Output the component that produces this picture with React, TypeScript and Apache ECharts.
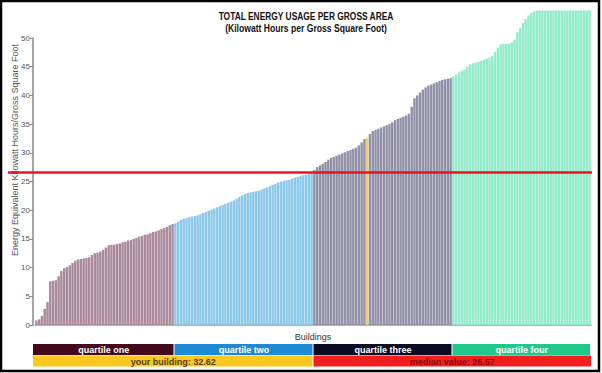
import React, { useEffect, useRef } from "react";
import * as echarts from "echarts";

const q1Values = [0.8, 1.0, 1.6, 2.8, 4.0, 7.6, 7.7, 7.8, 8.5, 9.4, 9.9, 10.1, 10.4, 10.8, 11.2, 11.4, 11.5, 11.6, 11.7, 11.8, 12.2, 12.5, 12.6, 12.8, 13.1, 13.5, 13.9, 14.0, 14.0, 14.1, 14.2, 14.4, 14.5, 14.7, 14.8, 15.0, 15.2, 15.4, 15.5, 15.7, 15.8, 16.0, 16.2, 16.3, 16.5, 16.7, 16.9, 17.1, 17.4, 17.6];
const q2Values = [17.7, 18.0, 18.3, 18.5, 18.6, 18.8, 18.9, 19.0, 19.1, 19.3, 19.5, 19.7, 19.9, 20.1, 20.3, 20.5, 20.7, 20.9, 21.1, 21.3, 21.5, 21.7, 22.0, 22.3, 22.6, 22.8, 23.0, 23.1, 23.2, 23.3, 23.4, 23.6, 23.8, 24.0, 24.2, 24.4, 24.6, 24.8, 25.0, 25.1, 25.2, 25.3, 25.5, 25.7, 25.8, 26.0, 26.1, 26.2, 26.3, 26.5];
const q3Values = [27.0, 27.5, 27.8, 28.1, 28.4, 28.8, 29.1, 29.3, 29.5, 29.7, 29.9, 30.1, 30.3, 30.5, 30.7, 30.9, 31.3, 31.8, 32.4, 32.62, 33.3, 33.8, 34.0, 34.2, 34.4, 34.6, 34.8, 35.0, 35.3, 35.7, 35.9, 36.1, 36.3, 36.5, 36.8, 38.0, 39.5, 40.0, 40.5, 41.0, 41.4, 41.7, 41.9, 42.1, 42.3, 42.5, 42.7, 42.8, 42.9, 43.0];
const q4Values = [43.3, 43.6, 44.0, 44.3, 44.5, 45.0, 45.4, 45.6, 45.7, 45.8, 46.0, 46.2, 46.4, 46.6, 46.9, 47.6, 48.3, 48.9, 49.0, 49.0, 49.0, 49.2, 49.7, 51.0, 51.7, 52.6, 53.3, 53.9, 54.3, 54.6, 54.8, 54.8, 54.8, 54.8, 54.8, 54.8, 54.8, 54.8, 54.8, 54.8, 54.8, 54.8, 54.8, 54.8, 54.8, 54.8, 54.8, 54.8, 54.8, 54.8];

const quartileLabels = ["quartile one", "quartile two", "quartile three", "quartile four"];
const yourBuildingValue = 32.62;
const medianValue = 26.57;
const yTickValues = [0, 5, 10, 15, 20, 25, 30, 35, 40, 45, 50];

const barColors = ["#ab8b9b", "#8cc8ea", "#9191a7", "#92ebcb"];
const legendColors = ["#45091e", "#1e8ad3", "#0b0b24", "#1fc98c"];
const yourColor = "#f6c774";

export default function App() {
  const ref = useRef<HTMLDivElement>(null);
  useEffect(() => {
    document.body.style.margin = "0";
    const chart = echarts.init(ref.current!, null, { renderer: "svg" });
    const groups = [q1Values, q2Values, q3Values, q4Values];
    const categories: string[] = [];
    const data: any[] = [];
    groups.forEach((vals, gi) => {
      vals.forEach((v) => {
        categories.push("B" + (categories.length + 1));
        const isYou = v === yourBuildingValue;
        data.push({ value: v, itemStyle: { color: isYou ? yourColor : barColors[gi] } });
      });
    });

    const font = "'Liberation Sans', Arial, sans-serif";
    const legendTop1 = 344;
    const legendTop2 = 355.5;
    const lh = 11;
    const qx = [33, 174.5, 313.5, 452.5, 591];
    const legendEls: any[] = [];
    quartileLabels.forEach((lab, i) => {
      legendEls.push({
        type: "rect",
        shape: { x: qx[i], y: legendTop1, width: qx[i + 1] - qx[i] - 1, height: lh },
        style: { fill: legendColors[i] },
      });
      legendEls.push({
        type: "text",
        x: (qx[i] + qx[i + 1]) / 2,
        y: legendTop1 + lh / 2 + 0.5,
        style: { text: lab, fill: "#ffffff", font: "bold 9px " + font, textAlign: "center", textVerticalAlign: "middle" },
      });
    });
    legendEls.push({
      type: "rect",
      shape: { x: qx[0], y: legendTop2, width: qx[2] - qx[0] - 1, height: lh },
      style: { fill: "#fbc81f" },
    });
    legendEls.push({
      type: "text",
      x: (qx[0] + qx[2]) / 2,
      y: legendTop2 + lh / 2 + 0.5,
      style: { text: "your building: " + yourBuildingValue, fill: "#4a4020", font: "bold 9px " + font, textAlign: "center", textVerticalAlign: "middle" },
    });
    legendEls.push({
      type: "rect",
      shape: { x: qx[2], y: legendTop2, width: qx[4] - qx[2], height: lh },
      style: { fill: "#f21f1f" },
    });
    legendEls.push({
      type: "text",
      x: (qx[2] + qx[4]) / 2,
      y: legendTop2 + lh / 2 + 0.5,
      style: { text: "median value: " + medianValue, fill: "#8a0a0a", font: "bold 9px " + font, textAlign: "center", textVerticalAlign: "middle" },
    });

    const option: any = {
      animation: false,
      backgroundColor: "#ffffff",
      grid: { left: 35, right: 11, top: 38, bottom: 48, containLabel: false },
      xAxis: {
        type: "category",
        data: categories,
        axisTick: { show: false },
        axisLabel: { show: false },
        axisLine: { lineStyle: { color: "#9a9a9a", width: 1.5 } },
        name: "Buildings",
        nameLocation: "middle",
        nameGap: 7,
        nameTextStyle: { fontSize: 9, color: "#333", fontFamily: font },
      },
      yAxis: {
        type: "value",
        min: 0,
        max: 50,
        interval: 5,
        offset: 2,
        splitLine: { show: false },
        axisLine: { show: true, lineStyle: { color: "#888", width: 1.5 } },
        axisTick: { show: true, length: 3, lineStyle: { color: "#888" } },
        axisLabel: {
          fontSize: 8,
          color: "#555",
          margin: 3,
          fontFamily: font,
          formatter: (v: number) => (yTickValues.indexOf(v) >= 0 ? String(v) : ""),
        },
      },
      series: [
        {
          type: "bar",
          data,
          barCategoryGap: "12%",
          clip: false,
        },
      ],
      graphic: {
        elements: [
          {
            type: "rect",
            shape: { x: 1, y: 1, width: 598, height: 370 },
            style: { fill: "none", stroke: "#000", lineWidth: 2.5 },
            silent: true,
          },
          {
            type: "text",
            x: 306,
            y: 17,
            scaleX: 0.84,
            style: {
              text: "TOTAL ENERGY USAGE PER GROSS AREA",
              fill: "#111",
              font: "bold 10px " + font,
              textAlign: "center",
              textVerticalAlign: "middle",
            },
          },
          {
            type: "text",
            x: 306,
            y: 29,
            scaleX: 0.86,
            style: {
              text: "(Kilowatt Hours per Gross Square Foot)",
              fill: "#111",
              font: "bold 10px " + font,
              textAlign: "center",
              textVerticalAlign: "middle",
            },
          },
          {
            type: "text",
            x: 15,
            y: 150,
            rotation: Math.PI / 2,
            style: {
              text: "Energy Equivalent Kilowatt Hours/Gross Square Foot",
              fill: "#555",
              font: "9px " + font,
              textAlign: "center",
              textVerticalAlign: "middle",
            },
          },
          ...legendEls,
          {
            id: "median",
            type: "line",
            z: 100,
            shape: { x1: 8, y1: 0, x2: 592, y2: 0 },
            style: { stroke: "#e8141b", lineWidth: 2.5 },
            invisible: true,
          },
        ],
      },
    };
    chart.setOption(option);
    const my = chart.convertToPixel({ yAxisIndex: 0 }, medianValue) as number;
    chart.setOption({
      graphic: {
        elements: [
          { id: "median", type: "line", z: 100, invisible: false, shape: { x1: 8, y1: my, x2: 592, y2: my }, style: { stroke: "#e8141b", lineWidth: 2.5 } },
        ],
      },
    });
    return () => chart.dispose();
  }, []);
  return <div ref={ref} style={{ width: 602, height: 373 }} />;
}
